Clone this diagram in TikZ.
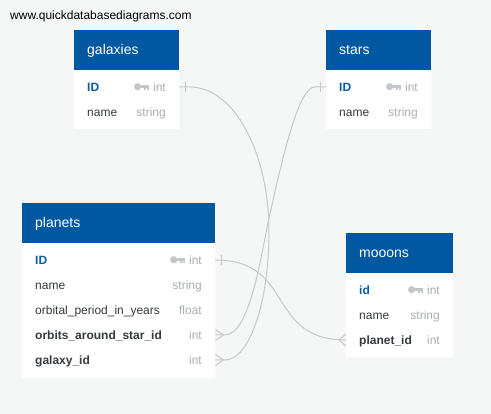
\documentclass[tikz,border=0pt]{standalone}
\usepackage{fontspec}
\setmainfont{Liberation Sans}
\usetikzlibrary{calc}
\definecolor{bgc}{HTML}{F5F6F6}
\definecolor{hdr}{HTML}{0059A0}
\definecolor{pkc}{HTML}{0B5CA6}
\definecolor{fldc}{HTML}{343A40}
\definecolor{typc}{HTML}{A9AEB3}
\definecolor{keyc}{HTML}{C3C7CB}
\definecolor{relc}{HTML}{C8C8C8}
\newcommand\erdkey[1]{%
  \fill[keyc] ($(#1)+(-11.3,-0.3)$) circle[radius=3.6pt];
  \fill[keyc] ($(#1)+(-8,-1.5)$) rectangle ($(#1)+(0,1)$);
  \fill[keyc] ($(#1)+(-4.5,1)$) rectangle ($(#1)+(-3,3.2)$);
  \fill[keyc] ($(#1)+(-2,1)$) rectangle ($(#1)+(0,3.2)$);
}
\begin{document}
\begin{tikzpicture}[x=1pt,y=-1pt,
  hdrbox/.style={fill=hdr,draw=none,inner sep=0pt,anchor=north west,minimum height=40pt},
  bodybox/.style={fill=white,draw=none,inner sep=0pt,anchor=north west},
  rowbox/.style={draw=none,inner sep=0pt,anchor=west,minimum height=25pt},
  ttl/.style={anchor=base west,inner sep=0pt,text=white,font=\fontsize{14}{16}\selectfont},
  fname/.style={anchor=base west,inner sep=0pt,text=fldc,font=\fontsize{12}{14}\selectfont},
  pkname/.style={anchor=base west,inner sep=0pt,text=pkc,font=\fontsize{12}{14}\selectfont\bfseries},
  fkname/.style={anchor=base west,inner sep=0pt,text=fldc,font=\fontsize{12}{14}\selectfont\bfseries},
  ftype/.style={anchor=base east,inner sep=0pt,text=typc,font=\fontsize{12}{14}\selectfont},
  rel/.style={draw=relc,line width=1pt},
]
\fill[bgc] (0,0) rectangle (491,414);
\useasboundingbox (0,0) rectangle (491,414);

\node[anchor=base west,inner sep=0pt,text=black,font=\fontsize{12}{14}\selectfont] (wm) at (10,20) {www.quickdatabasediagrams.com};

% galaxies
\node[hdrbox,minimum width=105pt] (gal-h) at (74,30) {};
\node[bodybox,minimum width=105pt,minimum height=59pt] (gal-b) at (74,70) {};
\node[ttl] (gal-title) at (87,54.5) {galaxies};
\node[rowbox,minimum width=105pt] (gal-r1) at (74,87) {};
\node[rowbox,minimum width=105pt] (gal-r2) at (74,112) {};
\node[pkname] (gal-n1) at (87,91.5) {ID};
\node[ftype] (gal-t1) at (166,91.5) {int};
\node[fname] (gal-n2) at (87,116.5) {name};
\node[ftype] (gal-t2) at (166,116.5) {string};
\coordinate (gal-k1) at ($(gal-t1.base west)+(-4,-4.5)$);
\erdkey{gal-k1}

% stars
\node[hdrbox,minimum width=105pt] (star-h) at (326,30) {};
\node[bodybox,minimum width=105pt,minimum height=59pt] (star-b) at (326,70) {};
\node[ttl] (star-title) at (339,54.5) {stars};
\node[rowbox,minimum width=105pt] (star-r1) at (326,87) {};
\node[rowbox,minimum width=105pt] (star-r2) at (326,112) {};
\node[pkname] (star-n1) at (339,91.5) {ID};
\node[ftype] (star-t1) at (418,91.5) {int};
\node[fname] (star-n2) at (339,116.5) {name};
\node[ftype] (star-t2) at (418,116.5) {string};
\coordinate (star-k1) at ($(star-t1.base west)+(-4,-4.5)$);
\erdkey{star-k1}

% planets
\node[hdrbox,minimum width=193pt] (pla-h) at (22,203) {};
\node[bodybox,minimum width=193pt,minimum height=135pt] (pla-b) at (22,243) {};
\node[ttl] (pla-title) at (35,227.5) {planets};
\node[rowbox,minimum width=193pt] (pla-r1) at (22,260) {};
\node[rowbox,minimum width=193pt] (pla-r2) at (22,285) {};
\node[rowbox,minimum width=193pt] (pla-r3) at (22,310) {};
\node[rowbox,minimum width=193pt] (pla-r4) at (22,335) {};
\node[rowbox,minimum width=193pt] (pla-r5) at (22,360) {};
\node[pkname] (pla-n1) at (35,264.5) {ID};
\node[ftype] (pla-t1) at (202,264.5) {int};
\node[fname] (pla-n2) at (35,289.5) {name};
\node[ftype] (pla-t2) at (202,289.5) {string};
\node[fname] (pla-n3) at (35,314.5) {orbital\_period\_in\_years};
\node[ftype] (pla-t3) at (202,314.5) {float};
\node[fkname] (pla-n4) at (35,339.5) {orbits\_around\_star\_id};
\node[ftype] (pla-t4) at (202,339.5) {int};
\node[fkname] (pla-n5) at (35,364.5) {galaxy\_id};
\node[ftype] (pla-t5) at (202,364.5) {int};
\coordinate (pla-k1) at ($(pla-t1.base west)+(-4,-4.5)$);
\erdkey{pla-k1}

% mooons
\node[hdrbox,minimum width=107pt] (moo-h) at (346,233) {};
\node[bodybox,minimum width=107pt,minimum height=84pt] (moo-b) at (346,273) {};
\node[ttl] (moo-title) at (359,257.5) {mooons};
\node[rowbox,minimum width=107pt] (moo-r1) at (346,290) {};
\node[rowbox,minimum width=107pt] (moo-r2) at (346,315) {};
\node[rowbox,minimum width=107pt] (moo-r3) at (346,340) {};
\node[pkname] (moo-n1) at (359,294.5) {id};
\node[ftype] (moo-t1) at (440,294.5) {int};
\node[fname] (moo-n2) at (359,319.5) {name};
\node[ftype] (moo-t2) at (440,319.5) {string};
\node[fkname] (moo-n3) at (359,344.5) {planet\_id};
\node[ftype] (moo-t3) at (440,344.5) {int};
\coordinate (moo-k1) at ($(moo-t1.base west)+(-4,-4.5)$);
\erdkey{moo-k1}

% relationships
% galaxies.ID -> planets.galaxy_id
\draw[rel] (gal-r1.east) -- (190,87) .. controls (233.6,87) and (269,151.9) .. (269,232)
  .. controls (269,302.7) and (249.3,360) .. (225,360) -- (pla-r5.east);
\draw[rel] ($(gal-r1.east)+(6,-5)$) -- ++(0,10);
\draw[rel] ($(pla-r5.east)+(0,-5.5)$) -- ($(pla-r5.east)+(8,0)$) -- ($(pla-r5.east)+(0,5.5)$);

% stars.ID -> planets.orbits_around_star_id
\draw[rel] (star-r1.west) -- (315,87) .. controls (299,87) and (283.8,151) .. (268,223)
  .. controls (261.4,253) and (250,335) .. (225,335) -- (pla-r4.east);
\draw[rel] ($(star-r1.west)+(-6,-5)$) -- ++(0,10);
\draw[rel] ($(pla-r4.east)+(0,-5.5)$) -- ($(pla-r4.east)+(8,0)$) -- ($(pla-r4.east)+(0,5.5)$);

% planets.ID -> mooons.planet_id
\draw[rel] (pla-r1.east) .. controls (295,260) and (266,340) .. (moo-r3.west);
\draw[rel] ($(pla-r1.east)+(6,-5)$) -- ++(0,10);
\draw[rel] ($(moo-r3.west)+(0,-6)$) -- ($(moo-r3.west)+(-7,0)$) -- ($(moo-r3.west)+(0,6)$);
\end{tikzpicture}
\end{document}
